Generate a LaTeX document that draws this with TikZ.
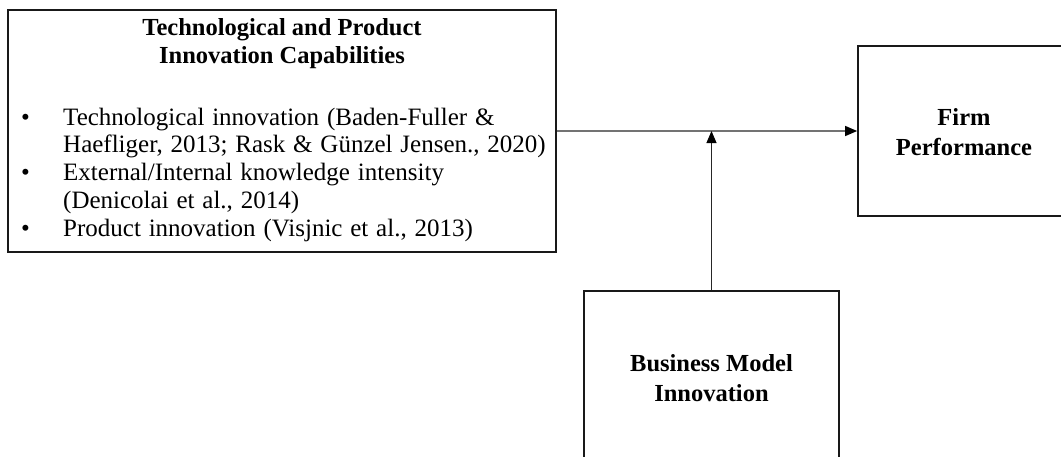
\documentclass[tikz,border=0pt]{standalone}
\usepackage{fontspec}
\setmainfont{Liberation Serif}
\newfontfamily\listfont[WordSpace=1.25]{Liberation Serif}
\usetikzlibrary{arrows.meta}
\begin{document}
\begin{tikzpicture}[x=1pt,y=-1pt,
  box/.style={draw=black!90, line width=1.7pt, inner sep=0pt},
  txt/.style={inner sep=0pt, anchor=base west, font=\fontsize{25}{28}\listfont},
  head/.style={inner sep=0pt, anchor=base, font=\fontsize{24.5}{28}\selectfont\bfseries},
  link/.style={-{Triangle[length=12pt,width=10pt,color=black]}},
]
\useasboundingbox (0,0) rectangle (1061,456);
\clip (0,0) rectangle (1061,456);

% boxes
\node[box, minimum width=548pt, minimum height=242pt] (tech) at (282,131) {};
\node[box, minimum width=212pt, minimum height=170pt] (firm) at (964,131) {};
\node[box, minimum width=255pt, minimum height=180pt] (bmi) at (711.5,381) {};

% capability box heading
\node[head] (th1) at (282,35) {Technological and Product};
\node[head] (th2) at (282,63) {Innovation Capabilities};

% bullet list
\node[txt] (b1) at (21,125) {•};
\node[txt] (b2) at (21,180.5) {•};
\node[txt] (b3) at (21,236) {•};
\node[txt] (l1) at (63,125) {Technological innovation (Baden-Fuller \&};
\node[txt] (l2) at (63,152.75) {Haefliger, 2013; Rask \& Günzel Jensen., 2020)};
\node[txt] (l3) at (63,180.5) {External/Internal knowledge intensity};
\node[txt] (l4) at (63,208.25) {(Denicolai et al., 2014)};
\node[txt] (l5) at (63,236) {Product innovation (Visjnic et al., 2013)};

% outcome and moderator labels
\node[head] (f1) at (964,125) {Firm};
\node[head] (f2) at (964,155) {Performance};
\node[head] (m1) at (711.5,371) {Business Model};
\node[head] (m2) at (711.5,401) {Innovation};

% connectors
\draw[link, draw=black!55, line width=1.3pt] (tech.east) -- (firm.west);
\coordinate (join) at (bmi.north |- tech.east);
\draw[link, draw=black!85, line width=1pt] (bmi.north) -- (join);
\end{tikzpicture}
\end{document}
